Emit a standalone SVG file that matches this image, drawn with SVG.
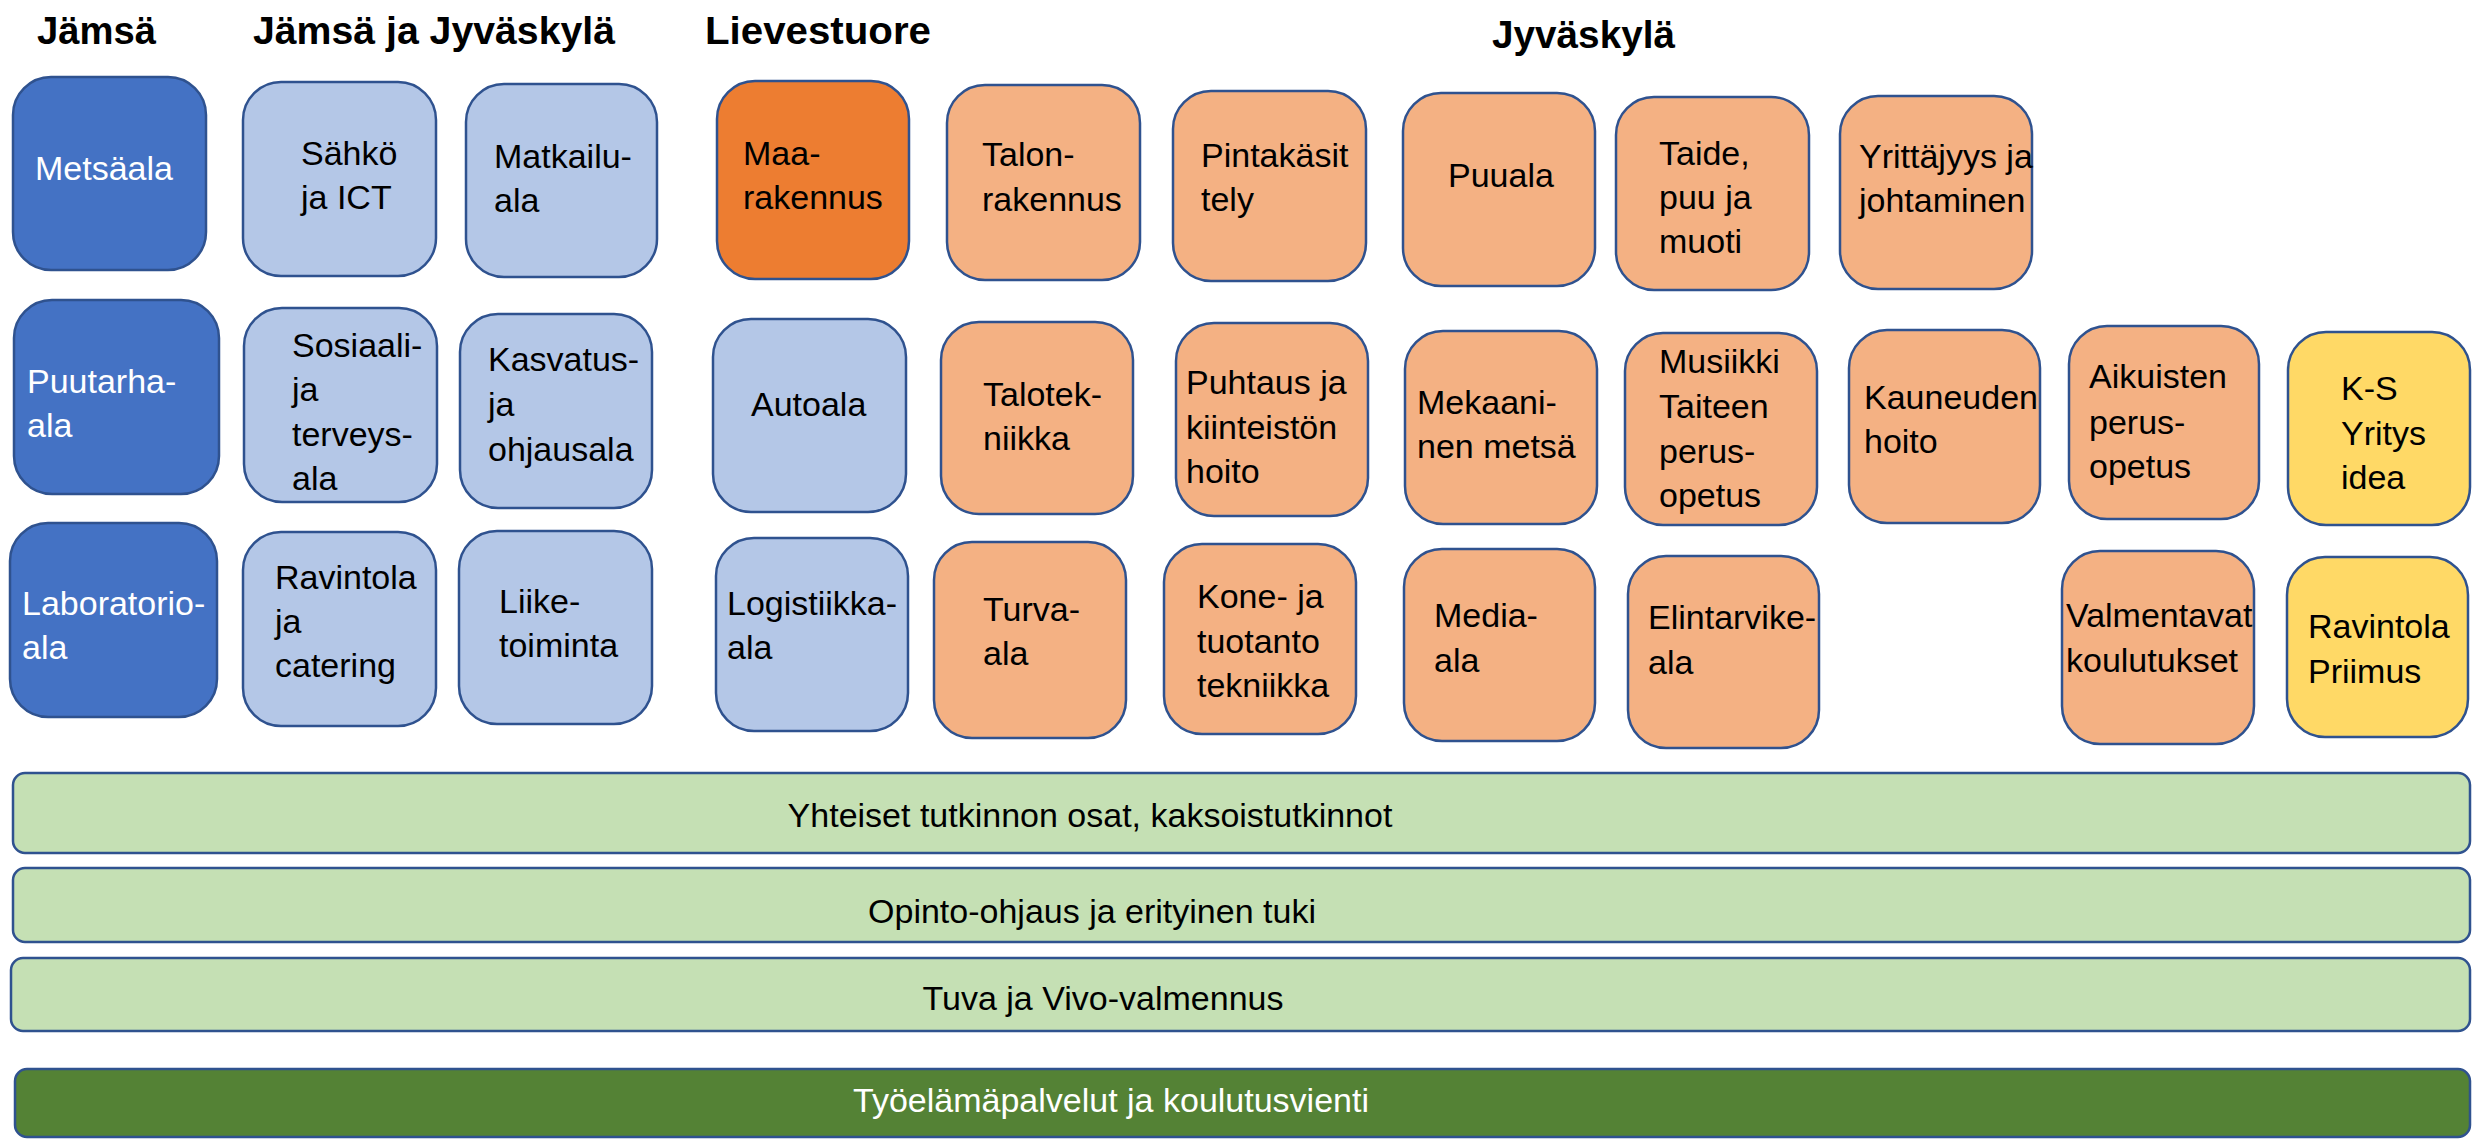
<svg xmlns="http://www.w3.org/2000/svg" width="2473" height="1139" viewBox="0 0 2473 1139">
<style>
text{font-family:"Liberation Sans",Arial,sans-serif;font-size:34px;fill:#000}
.h{font-weight:bold;font-size:39px}
.box{stroke:#2F528F;stroke-width:2.5}
.dk{fill:#4472C4}
.lb{fill:#B4C7E7}
.or{fill:#ED7D31}
.lo{fill:#F4B183}
.ye{fill:#FFD966}
.lg{fill:#C5E0B4}
.dg{fill:#548235}
.w{fill:#fff}
.c{text-anchor:middle}
</style>
<rect width="2473" height="1139" fill="#fff"/>
<g id="headings">
<text class="h" x="37" y="44" textLength="119" lengthAdjust="spacingAndGlyphs">Jämsä</text>
<text class="h" x="253" y="44" textLength="362" lengthAdjust="spacingAndGlyphs">Jämsä ja Jyväskylä</text>
<text class="h" x="705" y="44" textLength="226" lengthAdjust="spacingAndGlyphs">Lievestuore</text>
<text class="h" x="1492" y="48" textLength="183" lengthAdjust="spacingAndGlyphs">Jyväskylä</text>
</g>
<g id="connectors"></g>
<g id="metsaala"><rect class="box dk" x="13" y="77" width="193" height="193" rx="38"/><text class="w" x="35" y="180">Metsäala</text></g>
<g id="sahko"><rect class="box lb" x="243" y="82" width="193" height="194" rx="38"/><text x="301" y="165">Sähkö</text><text x="301" y="209">ja ICT</text></g>
<g id="matkailu"><rect class="box lb" x="466" y="84" width="191" height="193" rx="38"/><text x="494" y="168">Matkailu-</text><text x="494" y="212">ala</text></g>
<g id="maarakennus"><rect class="box or" x="717" y="81" width="192" height="198" rx="38"/><text x="743" y="165">Maa-</text><text x="743" y="209">rakennus</text></g>
<g id="talonrakennus"><rect class="box lo" x="947" y="85" width="193" height="195" rx="38"/><text x="982" y="166">Talon-</text><text x="982" y="211">rakennus</text></g>
<g id="pintakasittely"><rect class="box lo" x="1173" y="91" width="193" height="190" rx="38"/><text x="1201" y="167">Pintakäsit</text><text x="1201" y="211">tely</text></g>
<g id="puuala"><rect class="box lo" x="1403" y="93" width="192" height="193" rx="38"/><text x="1448" y="187">Puuala</text></g>
<g id="taide"><rect class="box lo" x="1616" y="97" width="193" height="193" rx="38"/><text x="1659" y="165">Taide,</text><text x="1659" y="209">puu ja</text><text x="1659" y="253">muoti</text></g>
<g id="yrittajyys"><rect class="box lo" x="1840" y="96" width="192" height="193" rx="38"/><text x="1859" y="168">Yrittäjyys ja</text><text x="1859" y="212">johtaminen</text></g>
<g id="puutarha"><rect class="box dk" x="14" y="300" width="205" height="194" rx="38"/><text class="w" x="27" y="393">Puutarha-</text><text class="w" x="27" y="437">ala</text></g>
<g id="sosiaali"><rect class="box lb" x="244" y="308" width="193" height="194" rx="38"/><text x="292" y="357">Sosiaali-</text><text x="292" y="401">ja</text><text x="292" y="446">terveys-</text><text x="292" y="490">ala</text></g>
<g id="kasvatus"><rect class="box lb" x="460" y="314" width="192" height="194" rx="38"/><text x="488" y="371">Kasvatus-</text><text x="488" y="416">ja</text><text x="488" y="461">ohjausala</text></g>
<g id="autoala"><rect class="box lb" x="713" y="319" width="193" height="193" rx="38"/><text x="751" y="416">Autoala</text></g>
<g id="talotekniikka"><rect class="box lo" x="941" y="322" width="192" height="192" rx="38"/><text x="983" y="406">Talotek-</text><text x="983" y="450">niikka</text></g>
<g id="puhtaus"><rect class="box lo" x="1176" y="323" width="192" height="193" rx="38"/><text x="1186" y="394">Puhtaus ja</text><text x="1186" y="439">kiinteistön</text><text x="1186" y="483">hoito</text></g>
<g id="mekaaninen"><rect class="box lo" x="1405" y="331" width="192" height="193" rx="38"/><text x="1417" y="414">Mekaani-</text><text x="1417" y="458">nen metsä</text></g>
<g id="musiikki"><rect class="box lo" x="1625" y="333" width="192" height="192" rx="38"/><text x="1659" y="373">Musiikki</text><text x="1659" y="418">Taiteen</text><text x="1659" y="463">perus-</text><text x="1659" y="507">opetus</text></g>
<g id="kauneuden"><rect class="box lo" x="1849" y="330" width="191" height="193" rx="38"/><text x="1864" y="409">Kauneuden</text><text x="1864" y="453">hoito</text></g>
<g id="aikuisten"><rect class="box lo" x="2069" y="326" width="190" height="193" rx="38"/><text x="2089" y="388">Aikuisten</text><text x="2089" y="434">perus-</text><text x="2089" y="478">opetus</text></g>
<g id="ks-yritys"><rect class="box ye" x="2288" y="332" width="182" height="193" rx="38"/><text x="2341" y="400">K-S</text><text x="2341" y="445">Yritys</text><text x="2341" y="489">idea</text></g>
<g id="laboratorio"><rect class="box dk" x="10" y="523" width="207" height="194" rx="38"/><text class="w" x="22" y="615">Laboratorio-</text><text class="w" x="22" y="659">ala</text></g>
<g id="ravintola"><rect class="box lb" x="243" y="532" width="193" height="194" rx="38"/><text x="275" y="589">Ravintola</text><text x="275" y="633">ja</text><text x="275" y="677">catering</text></g>
<g id="liiketoiminta"><rect class="box lb" x="459" y="531" width="193" height="193" rx="38"/><text x="499" y="613">Liike-</text><text x="499" y="657">toiminta</text></g>
<g id="logistiikka"><rect class="box lb" x="716" y="538" width="192" height="193" rx="38"/><text x="727" y="615">Logistiikka-</text><text x="727" y="659">ala</text></g>
<g id="turva"><rect class="box lo" x="934" y="542" width="192" height="196" rx="38"/><text x="983" y="621">Turva-</text><text x="983" y="665">ala</text></g>
<g id="kone"><rect class="box lo" x="1164" y="544" width="192" height="190" rx="38"/><text x="1197" y="608">Kone- ja</text><text x="1197" y="653">tuotanto</text><text x="1197" y="697">tekniikka</text></g>
<g id="media"><rect class="box lo" x="1404" y="549" width="191" height="192" rx="38"/><text x="1434" y="627">Media-</text><text x="1434" y="672">ala</text></g>
<g id="elintarvike"><rect class="box lo" x="1628" y="556" width="191" height="192" rx="38"/><text x="1648" y="629">Elintarvike-</text><text x="1648" y="674">ala</text></g>
<g id="valmentavat"><rect class="box lo" x="2062" y="551" width="192" height="193" rx="38"/><text x="2066" y="627">Valmentavat</text><text x="2066" y="672">koulutukset</text></g>
<g id="priimus"><rect class="box ye" x="2287" y="557" width="181" height="180" rx="38"/><text x="2308" y="638">Ravintola</text><text x="2308" y="683">Priimus</text></g>
<g id="yhteiset"><rect class="box lg" x="13" y="773" width="2457" height="80" rx="12"/><text class="c" x="1090" y="827">Yhteiset tutkinnon osat, kaksoistutkinnot</text></g>
<g id="opinto-ohjaus"><rect class="box lg" x="13" y="868" width="2457" height="74" rx="12"/><text class="c" x="1092" y="923">Opinto-ohjaus ja erityinen tuki</text></g>
<g id="tuva"><rect class="box lg" x="11" y="958" width="2459" height="73" rx="12"/><text class="c" x="1103" y="1010">Tuva ja Vivo-valmennus</text></g>
<g id="tyoelama"><rect class="box dg" x="15" y="1069" width="2455" height="68" rx="12"/><text class="c w" x="1111" y="1112">Työelämäpalvelut ja koulutusvienti</text></g>
</svg>
